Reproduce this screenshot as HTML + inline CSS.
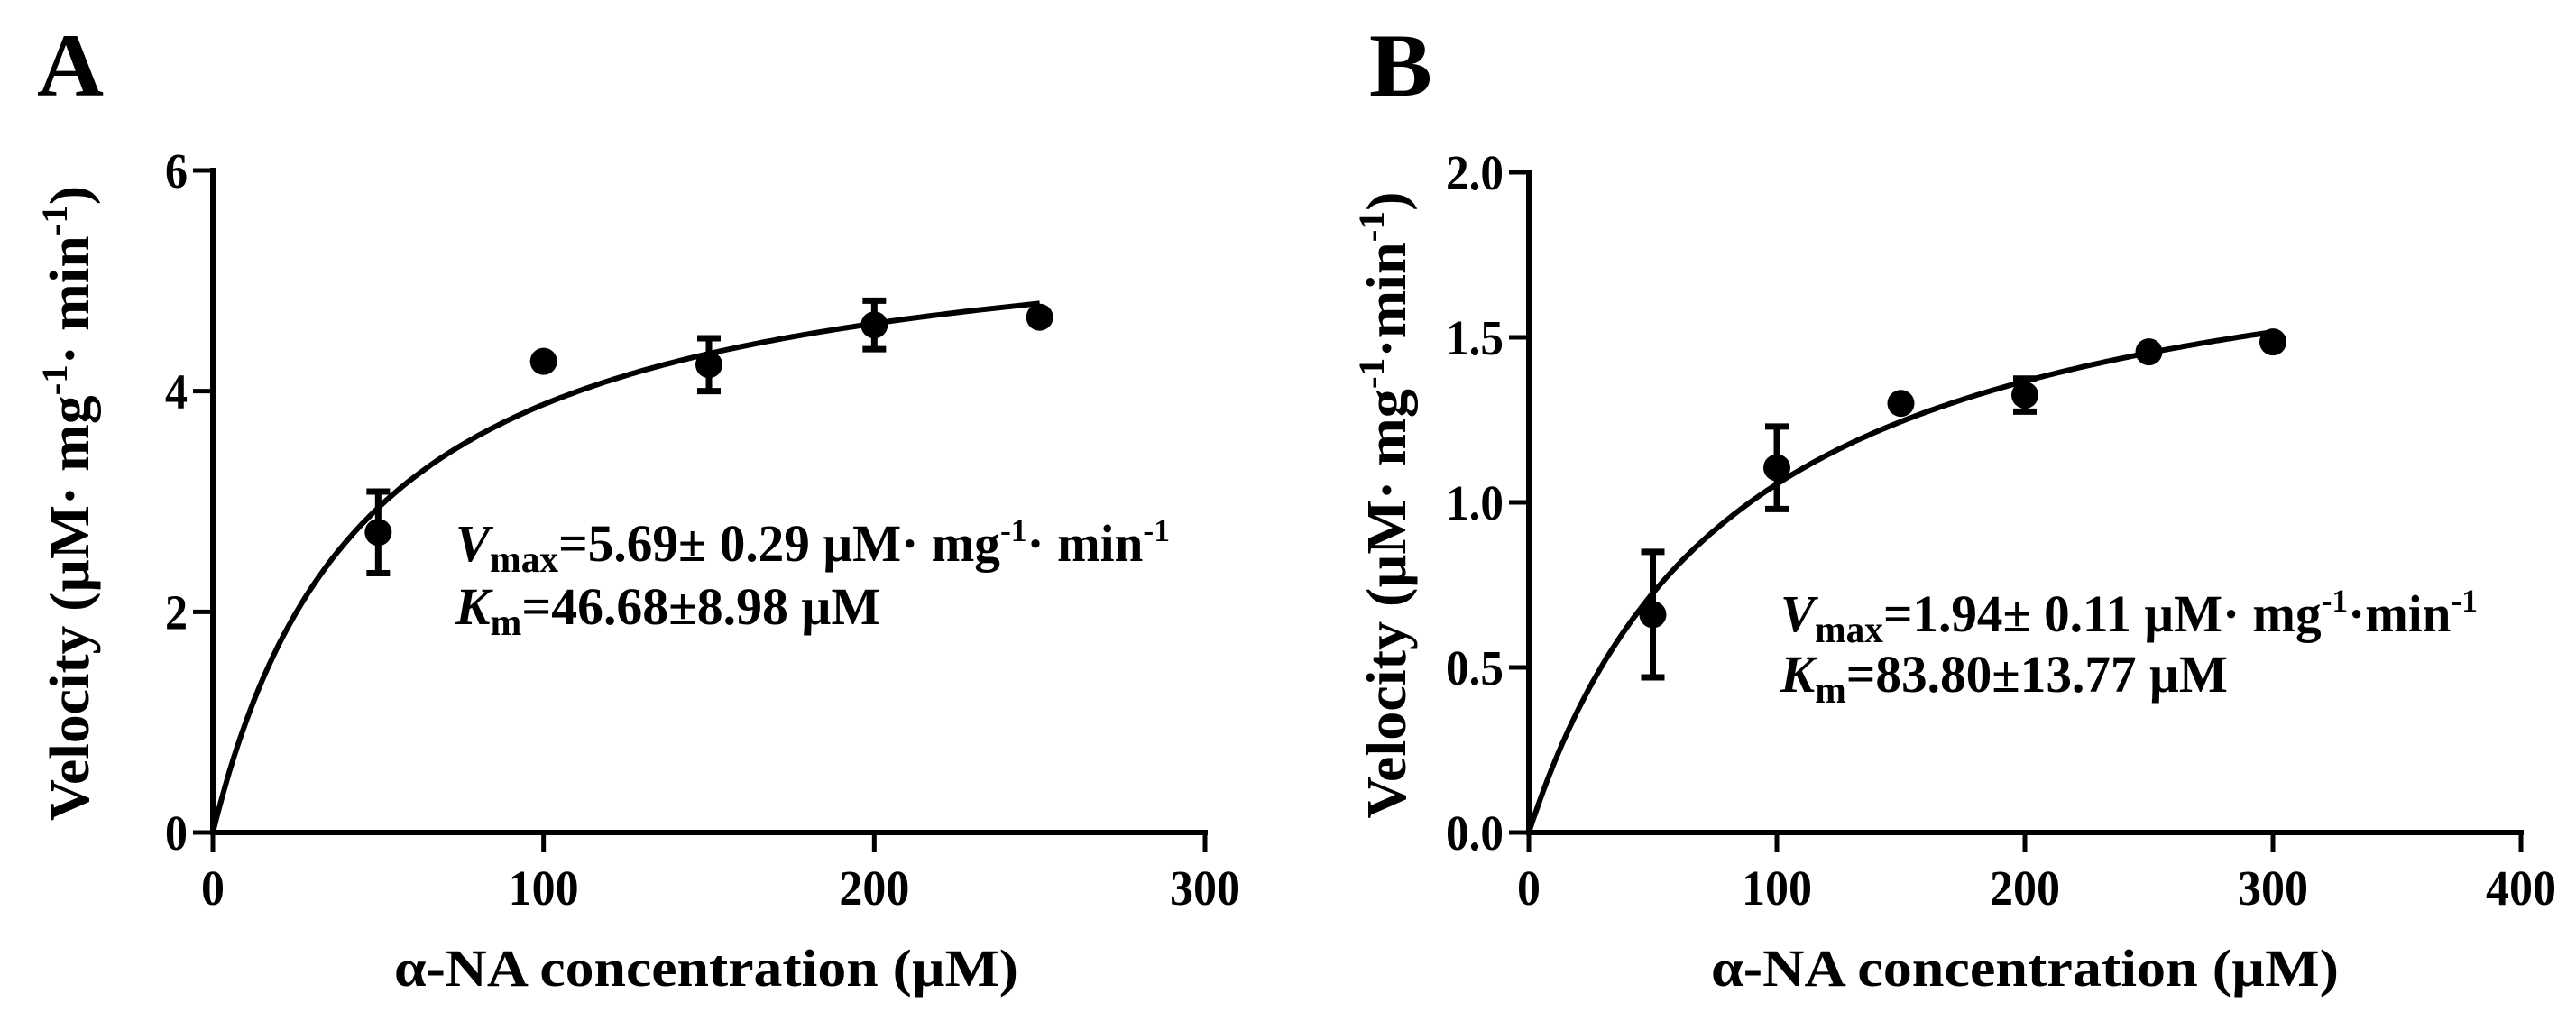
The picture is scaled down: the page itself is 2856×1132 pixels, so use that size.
<!DOCTYPE html>
<html><head><meta charset="utf-8">
<style>
html,body{margin:0;padding:0;background:#fff;}
svg{display:block;}
text{font-family:"Liberation Serif",serif;font-weight:bold;fill:#000;}
</style></head>
<body>
<svg id="fig" width="2856" height="1132" viewBox="0 0 2856 1132" xmlns="http://www.w3.org/2000/svg">
  <text x="41" y="106" font-size="100" textLength="74" lengthAdjust="spacingAndGlyphs">A</text>
  <text x="1518" y="106" font-size="100" textLength="70" lengthAdjust="spacingAndGlyphs">B</text>

  <text x="505" y="622" font-size="58" textLength="792" lengthAdjust="spacingAndGlyphs"><tspan font-style="italic">V</tspan><tspan font-size="42" dy="12">max</tspan><tspan dy="-12">=5.69± 0.29 µM· mg</tspan><tspan font-size="36" dy="-22">-1</tspan><tspan dy="22">· min</tspan><tspan font-size="36" dy="-22">-1</tspan></text>
  <text x="505" y="692" font-size="58" textLength="471" lengthAdjust="spacingAndGlyphs"><tspan font-style="italic">K</tspan><tspan font-size="42" dy="12">m</tspan><tspan dy="-12">=46.68±8.98 µM</tspan></text>

  <text x="1974" y="700" font-size="58" textLength="773" lengthAdjust="spacingAndGlyphs"><tspan font-style="italic">V</tspan><tspan font-size="42" dy="12">max</tspan><tspan dy="-12">=1.94± 0.11 µM· mg</tspan><tspan font-size="36" dy="-22">-1</tspan><tspan dy="22">·min</tspan><tspan font-size="36" dy="-22">-1</tspan></text>
  <text x="1974" y="767" font-size="58" textLength="496" lengthAdjust="spacingAndGlyphs"><tspan font-style="italic">K</tspan><tspan font-size="42" dy="12">m</tspan><tspan dy="-12">=83.80±13.77 µM</tspan></text>

  <text x="783" y="1093" font-size="58" text-anchor="middle" textLength="692" lengthAdjust="spacingAndGlyphs">α-NA concentration (µM)</text>
  <text x="2245" y="1093" font-size="58" text-anchor="middle" textLength="696" lengthAdjust="spacingAndGlyphs">α-NA concentration (µM)</text>

  <text transform="translate(98,558) rotate(-90)" font-size="62" text-anchor="middle" textLength="704" lengthAdjust="spacingAndGlyphs">Velocity (µM· mg<tspan font-size="40" dy="-24">-1</tspan><tspan dy="24">· min</tspan><tspan font-size="40" dy="-24">-1</tspan><tspan dy="24">)</tspan></text>
  <text transform="translate(1558,560) rotate(-90)" font-size="62" text-anchor="middle" textLength="695" lengthAdjust="spacingAndGlyphs">Velocity (µM· mg<tspan font-size="40" dy="-24">-1</tspan><tspan dy="24">·min</tspan><tspan font-size="40" dy="-24">-1</tspan><tspan dy="24">)</tspan></text>

  <g id="gA"></g>
  <g id="gB"></g>
</svg>
<script>
// Panel A data
const aX = [50, 100, 150, 200, 250];
const aY = [2.72, 4.27, 4.24, 4.60, 4.67];
const aErr = [0.37, 0, 0.24, 0.22, 0];
const aXTicks = [0, 100, 200, 300];
const aYTicks = [0, 2, 4, 6];
const aYTickLabels = ["0", "2", "4", "6"];
const aFit = [5.69, 46.68];
// Panel B data
const bX = [50, 100, 150, 200, 250, 300];
const bY = [0.66, 1.105, 1.30, 1.325, 1.456, 1.486];
const bErr = [0.19, 0.125, 0, 0.05, 0, 0];
const bXTicks = [0, 100, 200, 300, 400];
const bYTicks = [0, 0.5, 1.0, 1.5, 2.0];
const bYTickLabels = ["0.0", "0.5", "1.0", "1.5", "2.0"];
const bFit = [1.94, 83.80];

const NS = "http://www.w3.org/2000/svg";
function mk(tag, attrs, parent) {
  const e = document.createElementNS(NS, tag);
  for (const k in attrs) e.setAttribute(k, attrs[k]);
  parent.appendChild(e);
  return e;
}

function drawPanel(g, p, xs, ys, errs, xTicks, yTicks, yLabels, fit, xFitMax) {
  const sx = v => p.x0 + (v - p.xmin) / (p.xmax - p.xmin) * (p.x1 - p.x0);
  const sy = v => p.y0 - (v - p.ymin) / (p.ymax - p.ymin) * (p.y0 - p.y1);
  // axes
  const ya = mk("line", {x1: p.x0, y1: sy(p.ymax) - 3, x2: p.x0, y2: p.y0 + 3, stroke: "#000", "stroke-width": 6}, g);
  
  
  const xa = mk("line", {x1: p.x0 - 3, y1: p.y0, x2: sx(p.xmax) + 3, y2: p.y0, stroke: "#000", "stroke-width": 6}, g);
  
  
  xTicks.forEach(t => {
    const l = mk("line", {x1: sx(t), y1: p.y0, x2: sx(t), y2: p.y0 + 22, stroke: "#000", "stroke-width": 5}, g);
    
    
    const s = String(t);
    const tx = mk("text", {x: sx(t), y: 1003, "font-size": 55, "text-anchor": "middle", textLength: s.length * 26, lengthAdjust: "spacingAndGlyphs"}, g);
    tx.textContent = s;
    
    
  });
  yTicks.forEach((t, i) => {
    const l = mk("line", {x1: p.x0 - 22, y1: sy(t), x2: p.x0, y2: sy(t), stroke: "#000", "stroke-width": 5}, g);
    
    
    const s = yLabels[i];
    const tx = mk("text", {x: p.x0 - 28, y: sy(t) + 19, "font-size": 55, "text-anchor": "end", textLength: s.length === 1 ? 25 : 64, lengthAdjust: "spacingAndGlyphs"}, g);
    tx.textContent = s;
    
    
  });
  // fit curve
  let d = "";
  for (let i = 0; i <= 200; i++) {
    const x = xFitMax * i / 200;
    const y = fit[0] * x / (fit[1] + x);
    d += (i ? "L" : "M") + sx(x).toFixed(1) + "," + sy(y).toFixed(1);
  }
  const c = mk("path", {d: d, fill: "none", stroke: "#000", "stroke-width": 6}, g);
  
  
  // points + error bars
  xs.forEach((xv, i) => {
    const cx = sx(xv), cy = sy(ys[i]);
    if (errs[i] > 0) {
      const top = sy(ys[i] + errs[i]), bot = sy(ys[i] - errs[i]);
      const eb = mk("path", {d: `M${cx},${top}L${cx},${bot}M${cx - 13},${top}L${cx + 13},${top}M${cx - 13},${bot}L${cx + 13},${bot}`, stroke: "#000", "stroke-width": 7, fill: "none"}, g);
      
      
    }
    const pt = mk("ellipse", {cx: cx, cy: cy, rx: 15, ry: 15, fill: "#000"}, g);
    
    
  });
}

drawPanel(document.getElementById("gA"),
  {name: "panel-a", x0: 236, x1: 1336, xmin: 0, xmax: 300, y0: 923, y1: 189, ymin: 0, ymax: 6},
  aX, aY, aErr, aXTicks, aYTicks, aYTickLabels, aFit, 250);
drawPanel(document.getElementById("gB"),
  {name: "panel-b", x0: 1695, x1: 2795, xmin: 0, xmax: 400, y0: 923, y1: 191, ymin: 0, ymax: 2},
  bX, bY, bErr, bXTicks, bYTicks, bYTickLabels, bFit, 300);
</script>
</body></html>
